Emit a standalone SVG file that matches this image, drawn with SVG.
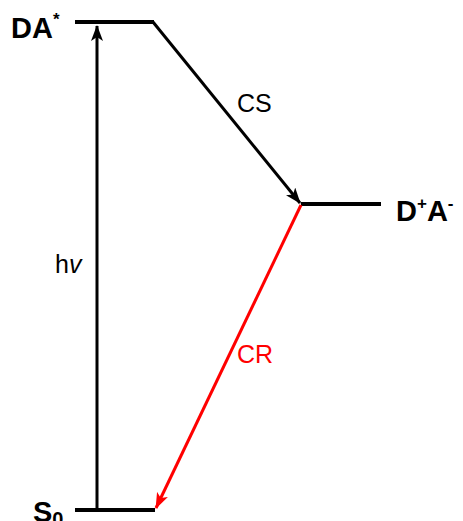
<svg xmlns="http://www.w3.org/2000/svg" width="463" height="521" viewBox="0 0 463 521">
<style>
.lvl{stroke:#000;stroke-width:4;fill:none}
.con{stroke-width:3;fill:none}
.lab{font-family:"Liberation Sans",Arial,sans-serif;font-weight:bold;font-size:29px;fill:#000}
.t{font-family:"Liberation Sans",Arial,sans-serif;font-size:25px}
</style>
<defs>
<marker id="ab" viewBox="0 0 16 12" refX="15" refY="6" markerWidth="16" markerHeight="12" markerUnits="userSpaceOnUse" orient="auto">
<path d="M0,0 L16,6 L0,12 L4,6 Z" fill="#000"/>
</marker>
<marker id="ar" viewBox="0 0 16 12" refX="15" refY="6" markerWidth="16" markerHeight="12" markerUnits="userSpaceOnUse" orient="auto">
<path d="M0,0 L16,6 L0,12 L4,6 Z" fill="#f00"/>
</marker>
</defs>
<g id="DAstar">
<line class="lvl" x1="75" y1="22" x2="154" y2="22"/>
<text class="lab" x="11" y="38">DA<tspan font-size="17" dy="-13">*</tspan></text>
</g>
<g id="DpAm">
<line class="lvl" x1="301" y1="204" x2="381" y2="204"/>
<text class="lab" x="396" y="221">D<tspan font-size="17" dy="-12">+</tspan><tspan dy="12">A</tspan><tspan font-size="17" dy="-12">-</tspan></text>
</g>
<g id="S0">
<line class="lvl" x1="75" y1="510" x2="155" y2="510"/>
<text class="lab" x="33" y="522">S<tspan font-size="20" dy="4">0</tspan></text>
</g>
<g id="connectors">
<line class="con" stroke="#000" x1="97" y1="510" x2="97" y2="26" marker-end="url(#ab)"/>
<line class="con" stroke="#000" x1="153" y1="22" x2="300" y2="203" marker-end="url(#ab)"/>
<line class="con" stroke="#f00" x1="301" y1="205" x2="156" y2="508" marker-end="url(#ar)"/>
<text class="t" x="237" y="112" fill="#000">CS</text>
<text class="t" x="55" y="273" fill="#000">h<tspan font-style="italic">v</tspan></text>
<text class="t" x="237" y="363" fill="#f00">CR</text>
</g>
</svg>
